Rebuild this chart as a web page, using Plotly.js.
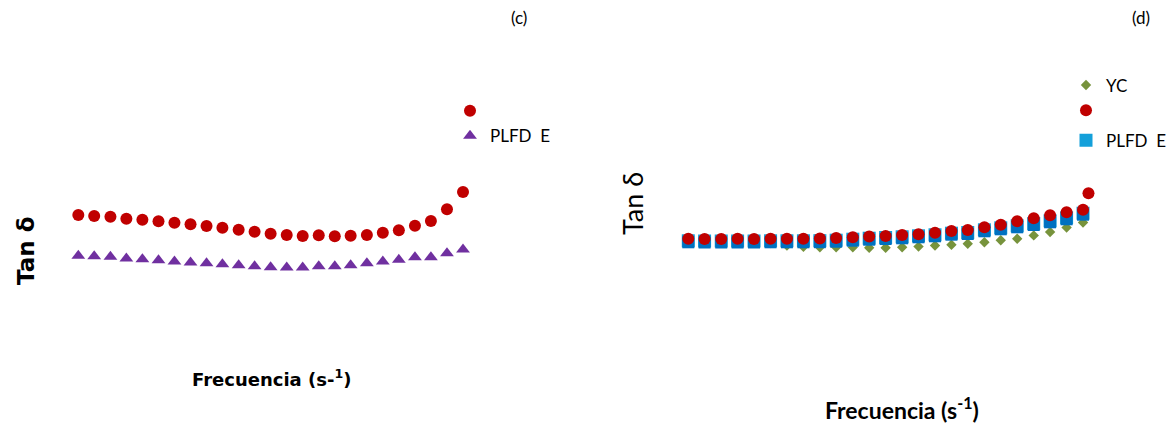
<!DOCTYPE html>
<html>
<head>
<meta charset="utf-8">
<script src="https://cdn.plot.ly/plotly-3.0.1.min.js"></script>
<style>html,body{margin:0;padding:0;background:#fff;}#chart{width:1167px;height:423px;}</style>
</head>
<body>
<div id="chart"></div>
<script>
// Frequency (s^-1), log-spaced sweep
const freq = [0.1, 0.133, 0.178, 0.237, 0.316, 0.422, 0.562, 0.75, 1, 1.33, 1.78, 2.37, 3.16, 4.22, 5.62, 7.5, 10, 13.3, 17.8, 23.7, 31.6, 42.2, 56.2, 75, 100];
const freqRedD = [0.1, 0.133, 0.178, 0.237, 0.316, 0.422, 0.562, 0.75, 1, 1.33, 1.78, 2.37, 3.16, 4.22, 5.62, 7.5, 10, 13.3, 17.8, 23.7, 31.6, 42.2, 56.2, 75, 100, 110];

// Panel (c)
const tanRedC = [0.625, 0.620, 0.6165, 0.6065, 0.6015, 0.5935, 0.5865, 0.5785, 0.570, 0.5615, 0.5515, 0.5415, 0.5315, 0.525, 0.520, 0.5235, 0.5185, 0.5215, 0.525, 0.5365, 0.5485, 0.5715, 0.595, 0.6535, 0.740];
const tanPlfdEC = [0.421, 0.419, 0.416, 0.4075, 0.404, 0.399, 0.3925, 0.3875, 0.384, 0.379, 0.374, 0.369, 0.364, 0.3625, 0.3625, 0.369, 0.369, 0.374, 0.384, 0.3925, 0.401, 0.414, 0.414, 0.434, 0.4525];

// Panel (d)
const tanYCD = [0.4875, 0.4875, 0.487, 0.487, 0.486, 0.485, 0.472, 0.466, 0.464, 0.4635, 0.4635, 0.461, 0.461, 0.4635, 0.467, 0.4725, 0.4765, 0.481, 0.489, 0.4985, 0.5065, 0.523, 0.540, 0.5625, 0.5875];
const tanPlfdED = [0.4960, 0.4950, 0.4950, 0.4950, 0.4950, 0.4960, 0.4960, 0.4960, 0.4965, 0.4990, 0.5040, 0.5090, 0.5125, 0.5160, 0.5210, 0.5260, 0.5340, 0.5375, 0.5510, 0.5610, 0.5710, 0.5825, 0.5960, 0.6110, 0.6340];
const tanBlueD = [0.4885, 0.4875, 0.4875, 0.4875, 0.4875, 0.4885, 0.4885, 0.4885, 0.489, 0.4915, 0.4965, 0.5015, 0.505, 0.5085, 0.5135, 0.5185, 0.5265, 0.530, 0.5435, 0.5535, 0.5635, 0.575, 0.5885, 0.6035, 0.6265];
const tanRedD = [0.5065, 0.505, 0.505, 0.5065, 0.505, 0.5065, 0.5065, 0.5065, 0.5075, 0.510, 0.514, 0.5175, 0.520, 0.525, 0.5285, 0.5365, 0.545, 0.550, 0.5635, 0.5765, 0.5935, 0.6085, 0.6235, 0.6385, 0.6515, 0.7335];

const labelPlfdE = 'PLFD\u00a0\u00a0E';

const RED = '#C00000', PURPLE = '#7030A0', GREEN = '#77933C', BLUE = '#0070C0', LIGHTBLUE = '#14A0DA';

const traces = [
  {x: freq, y: tanRedC, xaxis: 'x', yaxis: 'y', type: 'scatter', mode: 'markers', name: '\u00a0',
   marker: {symbol: 'circle', size: 12, color: RED}, cliponaxis: false, legend: 'legend', legendrank: 1},
  {x: freq, y: tanPlfdEC, xaxis: 'x', yaxis: 'y', type: 'scatter', mode: 'markers', name: labelPlfdE,
   marker: {symbol: 'triangle-up', size: 12, color: PURPLE}, cliponaxis: false, legend: 'legend', legendrank: 2},

  {x: freq, y: tanYCD, xaxis: 'x2', yaxis: 'y2', type: 'scatter', mode: 'markers', name: 'YC',
   marker: {symbol: 'diamond', size: 8, color: GREEN}, cliponaxis: false, legend: 'legend2', legendgroup: 'g1', legendrank: 1},
  {x: freq, y: tanPlfdED, xaxis: 'x2', yaxis: 'y2', type: 'scatter', mode: 'markers', name: labelPlfdE,
   marker: {symbol: 'square', size: 13, color: LIGHTBLUE}, cliponaxis: false, legend: 'legend2', legendgroup: 'g2', legendrank: 3},
  {x: freq, y: tanBlueD, xaxis: 'x2', yaxis: 'y2', type: 'scatter', mode: 'markers', name: 'PLFD',
   marker: {symbol: 'square', size: 12, color: BLUE}, cliponaxis: false, showlegend: false},
  {x: freqRedD, y: tanRedD, xaxis: 'x2', yaxis: 'y2', type: 'scatter', mode: 'markers', name: '\u00a0',
   marker: {symbol: 'circle', size: 12, color: RED}, cliponaxis: false, legend: 'legend2', legendgroup: 'g1', legendrank: 2}
];

const hiddenAxis = {showgrid: false, zeroline: false, showline: false, showticklabels: false, ticks: '', fixedrange: true};

const layout = {
  width: 1167, height: 423,
  margin: {l: 0, r: 0, t: 0, b: 0, pad: 0, autoexpand: false},
  paper_bgcolor: '#ffffff', plot_bgcolor: 'rgba(0,0,0,0)',
  showlegend: true,
  font: {family: 'Lato, sans-serif', color: '#000000'},
  xaxis: Object.assign({}, hiddenAxis, {type: 'log', domain: [40/1167, 480/1167], range: [-1.2988, 2.1326], anchor: 'y'}),
  yaxis: Object.assign({}, hiddenAxis, {domain: [1-340/423, 1-60/423], range: [0, 1.4], anchor: 'x'}),
  xaxis2: Object.assign({}, hiddenAxis, {type: 'log', domain: [660/1167, 1110/1167], range: [-1.215, 2.205], anchor: 'y2'}),
  yaxis2: Object.assign({}, hiddenAxis, {domain: [1-340/423, 1-60/423], range: [0, 1.4], anchor: 'x2'}),
  legend: {x: 450/1167, y: 1-93.2/423, xanchor: 'left', yanchor: 'top', bgcolor: 'rgba(0,0,0,0)',
           font: {family: 'Lato, sans-serif', size: 17, color: '#000'}, traceorder: 'normal'},
  legend2: {x: 1066/1167, y: 1-67.5/423, xanchor: 'left', yanchor: 'top', bgcolor: 'rgba(0,0,0,0)',
            font: {family: 'Lato, sans-serif', size: 17, color: '#000'}, tracegroupgap: 5, traceorder: 'grouped'},
  annotations: [
    {text: '(c)', xref: 'paper', yref: 'paper', x: 519/1167, y: 1-18/423, xanchor: 'center', yanchor: 'middle', showarrow: false,
     font: {family: 'Lato, sans-serif', size: 17, color: '#000'}},
    {text: '(d)', xref: 'paper', yref: 'paper', x: 1141/1167, y: 1-18/423, xanchor: 'center', yanchor: 'middle', showarrow: false,
     font: {family: 'Lato, sans-serif', size: 17, color: '#000'}},
    {text: '<b>Tan δ</b>', xref: 'paper', yref: 'paper', x: 26/1167, y: 1-251/423, xanchor: 'center', yanchor: 'middle', showarrow: false,
     textangle: -90, font: {family: 'DejaVu Sans, sans-serif', size: 23, color: '#000'}},
    {text: '<b>Frecuencia (s-<sup>1</sup>)</b>', xref: 'paper', yref: 'paper', x: 271/1167, y: 1-378/423, xanchor: 'center', yanchor: 'middle', showarrow: false,
     font: {family: 'DejaVu Sans, sans-serif', size: 18, color: '#000'}},
    {text: 'Tan δ', xref: 'paper', yref: 'paper', x: 632/1167, y: 1-204/423, xanchor: 'center', yanchor: 'middle', showarrow: false,
     textangle: -90, font: {family: 'Lato, sans-serif', size: 27, color: '#000'}},
    {text: '<b>Frecuencia (s<sup>-1</sup>)</b>', xref: 'paper', yref: 'paper', x: 902/1167, y: 1-408/423, xanchor: 'center', yanchor: 'middle', showarrow: false,
     font: {family: 'Lato, sans-serif', size: 23, color: '#000'}}
  ]
};

Plotly.newPlot('chart', traces, layout, {staticPlot: true, displayModeBar: false});
</script>
</body>
</html>
